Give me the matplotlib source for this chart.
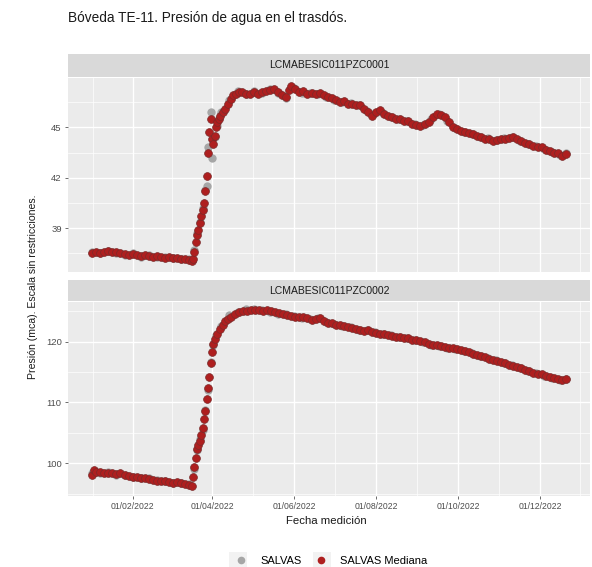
import numpy as np
import pandas as pd
import matplotlib
matplotlib.use('Agg')
import matplotlib.pyplot as plt
import matplotlib.dates as mdates
from matplotlib.lines import Line2D
from matplotlib.patches import Rectangle

plt.rcParams['font.family'] = ['Liberation Sans', 'DejaVu Sans']

# ── Data (day of year 2022, pressure in mca) ──
doy_top = [2, 5, 8, 11, 14, 17, 20, 23, 26, 29, 32, 35, 38, 41, 44, 47, 50, 53, 56, 59,
           62, 65, 68, 71, 74, 76, 77, 78, 79, 80, 81, 82, 83, 84, 85, 86, 87, 88, 89, 90,
           91, 92, 93, 94, 95, 96, 97, 99, 101, 103, 105, 107, 109, 111, 113, 116, 119, 122, 125, 128,
           131, 134, 137, 140, 143, 146, 148, 150, 153, 156, 159, 162, 165, 168, 171, 174, 177, 180, 183, 186,
           189, 192, 195, 198, 201, 204, 207, 210, 213, 216, 219, 222, 225, 228, 231, 234, 237, 240, 243, 246,
           249, 252, 255, 258, 261, 264, 267, 270, 273, 276, 279, 282, 285, 288, 291, 294, 297, 300, 303, 306,
           309, 312, 315, 318, 321, 324, 327, 330, 333, 336, 339, 342, 345, 348, 351, 354]
med_top = [37.55, 37.6, 37.55, 37.6, 37.62, 37.58, 37.6, 37.5, 37.45, 37.42, 37.45, 37.4, 37.35, 37.4, 37.38, 37.3, 37.35, 37.3, 37.25, 37.3,
           37.22, 37.25, 37.18, 37.15, 37.1, 37.05, 37.2, 37.6, 38.2, 38.6, 38.9, 39.3, 39.7, 40.1, 40.5, 41.2, 42.1, 43.5, 44.7, 45.5,
           44.3, 44.0, 44.5, 45.0, 45.3, 45.5, 45.7, 45.9, 46.1, 46.4, 46.7, 46.9, 47.0, 47.1, 47.1, 47.0, 47.0, 47.1, 47.0, 47.1,
           47.15, 47.2, 47.3, 47.1, 46.9, 46.8, 47.2, 47.45, 47.3, 47.1, 47.15, 47.0, 47.05, 47.0, 47.05, 46.9, 46.8, 46.75, 46.6, 46.5,
           46.55, 46.4, 46.4, 46.35, 46.3, 46.1, 45.9, 45.7, 45.9, 46.0, 45.8, 45.7, 45.6, 45.5, 45.5, 45.4, 45.35, 45.2, 45.15, 45.1,
           45.2, 45.3, 45.6, 45.8, 45.75, 45.6, 45.3, 45.0, 44.9, 44.8, 44.7, 44.65, 44.6, 44.5, 44.4, 44.3, 44.3, 44.2, 44.25, 44.3,
           44.3, 44.35, 44.4, 44.3, 44.2, 44.05, 44.0, 43.9, 43.85, 43.8, 43.65, 43.6, 43.5, 43.45, 43.3, 43.4]

doy_top_raw = [2, 8, 14, 20, 26, 32, 38, 44, 50, 56, 62, 68, 74, 78, 80, 82, 84, 86, 87, 88,
               90, 91, 93, 95, 98, 104, 110, 116, 122, 128, 134, 140, 146, 152, 158, 164, 170, 176, 182, 188,
               194, 200, 206, 212, 218, 224, 230, 236, 242, 248, 254, 260, 266, 272, 278, 284, 290, 296, 302, 308,
               314, 320, 326, 332, 338, 344, 350, 354]
raw_top = [37.6, 37.5, 37.65, 37.55, 37.4, 37.5, 37.3, 37.4, 37.3, 37.3, 37.25, 37.2, 37.15, 37.7, 38.7, 39.4, 40.2, 41.3, 41.5, 43.8,
           45.9, 43.2, 44.4, 45.1, 45.9, 46.6, 47.15, 46.95, 47.15, 47.05, 47.25, 47.05, 46.75, 47.35, 47.05, 47.05, 47.0, 46.8, 46.65, 46.5,
           46.45, 46.3, 45.95, 45.85, 45.85, 45.6, 45.5, 45.4, 45.2, 45.15, 45.5, 45.8, 45.35, 44.95, 44.75, 44.6, 44.45, 44.35, 44.25, 44.35,
           44.4, 44.2, 44.0, 43.9, 43.7, 43.55, 43.35, 43.45]

doy_bot = [2, 3, 5, 8, 11, 14, 17, 20, 23, 26, 29, 32, 35, 38, 41, 44, 47, 50, 53, 56,
           59, 62, 65, 68, 71, 74, 76, 77, 78, 79, 80, 81, 82, 83, 84, 85, 86, 87, 88, 89,
           90, 91, 92, 93, 95, 97, 99, 101, 103, 105, 108, 111, 114, 117, 120, 123, 126, 129, 132, 135,
           138, 141, 144, 147, 150, 153, 156, 159, 162, 165, 168, 171, 174, 177, 180, 183, 186, 189, 192, 195,
           198, 201, 204, 207, 210, 213, 216, 219, 222, 225, 228, 231, 234, 237, 240, 243, 246, 249, 252, 255,
           258, 261, 264, 267, 270, 273, 276, 279, 282, 285, 288, 291, 294, 297, 300, 303, 306, 309, 312, 315,
           318, 321, 324, 327, 330, 333, 336, 339, 342, 345, 348, 351, 354]
med_bot = [98.1, 98.8, 98.6, 98.5, 98.3, 98.4, 98.4, 98.2, 98.3, 98.0, 97.9, 97.8, 97.7, 97.6, 97.6, 97.4, 97.3, 97.1, 97.0, 97.1,
           96.9, 96.8, 96.9, 96.7, 96.6, 96.4, 96.3, 97.8, 99.3, 100.8, 102.3, 103.0, 103.6, 104.7, 105.8, 107.2, 108.5, 110.6, 112.4, 114.2,
           116.4, 118.3, 119.6, 120.4, 121.3, 122.0, 122.7, 123.3, 123.7, 124.1, 124.5, 124.8, 125.0, 125.1, 125.2, 125.25, 125.2, 125.1, 125.15, 125.0,
           124.8, 124.7, 124.5, 124.4, 124.2, 124.1, 124.0, 124.1, 123.8, 123.6, 123.7, 123.8, 123.4, 123.1, 123.0, 122.8, 122.7, 122.6, 122.4, 122.3,
           122.1, 121.9, 121.8, 121.9, 121.6, 121.4, 121.3, 121.2, 121.0, 120.9, 120.8, 120.7, 120.6, 120.5, 120.3, 120.2, 120.1, 119.9, 119.6, 119.4,
           119.5, 119.2, 119.1, 119.0, 118.9, 118.7, 118.6, 118.4, 118.2, 118.0, 117.8, 117.6, 117.4, 117.2, 117.0, 116.8, 116.6, 116.4, 116.2, 116.0,
           115.8, 115.6, 115.3, 115.1, 114.9, 114.7, 114.6, 114.3, 114.1, 114.0, 113.8, 113.6, 113.8]

doy_bot_raw = [2, 8, 14, 20, 26, 32, 38, 44, 50, 56, 62, 68, 74, 78, 80, 82, 84, 86, 88, 90,
               92, 94, 98, 104, 110, 116, 122, 128, 134, 140, 146, 152, 158, 164, 170, 176, 182, 188, 194, 200,
               206, 212, 218, 224, 230, 236, 242, 248, 254, 260, 266, 272, 278, 284, 290, 296, 302, 308, 314, 320,
               326, 332, 338, 344, 350, 354]
raw_bot = [98.4, 98.3, 98.5, 98.1, 98.1, 97.7, 97.5, 97.5, 97.2, 97.0, 96.7, 96.8, 96.5, 99.1, 102.1, 103.9, 105.5, 108.8, 112.1, 116.7,
           119.4, 121.0, 122.5, 124.3, 124.9, 125.3, 125.3, 125.2, 124.9, 124.6, 124.5, 124.2, 123.9, 123.7, 123.9, 123.2, 122.9, 122.5, 122.4, 121.9,
           121.9, 121.5, 121.2, 121.0, 120.7, 120.6, 120.2, 120.0, 119.5, 119.3, 119.0, 118.8, 118.5, 118.1, 117.7, 117.3, 116.9, 116.5, 116.1, 115.7,
           115.2, 114.8, 114.4, 114.0, 113.7, 113.9]

panels = ['LCMABESIC011PZC0001', 'LCMABESIC011PZC0002']
y_ticks = [[39, 42, 45], [100, 110, 120]]
y_minor = [[37.5, 40.5, 43.5, 46.5], [95, 105, 115, 125]]
y_lims = [(36.4, 47.93), (94.6, 126.5)]
x_ticks = ['2022-02-01', '2022-04-01', '2022-06-01', '2022-08-01', '2022-10-01', '2022-12-01']
legend_labels = ['SALVAS', 'SALVAS Mediana']


def to_dates(doy):
    return pd.Timestamp('2022-01-01') + pd.to_timedelta(np.array(doy) - 1, unit='D')


series = [
    (doy_top_raw, raw_top, doy_top, med_top),
    (doy_bot_raw, raw_bot, doy_bot, med_bot),
]

RED = '#AE1F1F'
RED_EDGE = '#7A2A2A'
GRAY = '#A6A6A6'
PANEL = '#EBEBEB'
STRIP = '#D9D9D9'
TXT = '#4D4D4D'

fig = plt.figure(figsize=(5.92, 5.67), dpi=100)
fig.patch.set_facecolor('white')

W, H = 592.0, 567.0
left, right = 68, 590
panel_px = [(78, 272), (302, 496)]
strip_px = [(54, 77), (280, 301)]

xmaj = mdates.date2num(pd.to_datetime(x_ticks))
step = xmaj[1] - xmaj[0]
xmin_grid = np.concatenate([[xmaj[0] - step / 2], (xmaj[:-1] + xmaj[1:]) / 2, [xmaj[-1] + step / 2]])
xlim = (mdates.date2num(pd.Timestamp('2021-12-15')), mdates.date2num(pd.Timestamp('2023-01-07')))

for i in range(2):
    top, bot = panel_px[i]
    ax = fig.add_axes([left / W, 1 - bot / H, (right - left) / W, (bot - top) / H])
    ax.set_facecolor(PANEL)
    for s in ax.spines.values():
        s.set_visible(False)

    dr, vr, dm, vm = series[i]
    ax.plot(to_dates(dr), vr, 'o', color=GRAY, ms=6.0, mew=0, zorder=3)
    ax.plot(to_dates(dm), vm, 'o', color=RED, ms=5.6, mec=RED_EDGE, mew=0.5, zorder=4)

    ax.set_xlim(xlim)
    ax.set_ylim(y_lims[i])
    ax.set_yticks(y_ticks[i])
    ax.set_yticks(y_minor[i], minor=True)
    ax.set_xticks(xmaj)
    ax.set_xticks(xmin_grid, minor=True)
    ax.grid(which='major', color='white', linewidth=1.0, zorder=1)
    ax.grid(which='minor', color='white', linewidth=0.5, zorder=1)
    ax.set_axisbelow(True)
    ax.tick_params(which='minor', length=0)
    ax.tick_params(which='major', length=2.5, width=0.6, color='#555555', labelsize=6.8,
                   labelcolor=TXT, pad=2)
    if i == 0:
        ax.tick_params(axis='x', which='major', length=0, labelbottom=False)
    else:
        ax.set_xticklabels(pd.to_datetime(x_ticks).strftime('%d/%m/%Y'))
        ax.tick_params(axis='x', labelsize=6.2)

    # facet strip
    st, sb = strip_px[i]
    sax = fig.add_axes([left / W, 1 - sb / H, (right - left) / W, (sb - st) / H])
    sax.set_facecolor(STRIP)
    sax.set_xticks([])
    sax.set_yticks([])
    for s in sax.spines.values():
        s.set_visible(False)
    sax.text(0.5, 0.5, panels[i], ha='center', va='center', fontsize=7.5, color='#1A1A1A',
             transform=sax.transAxes)

fig.text(68 / W, 1 - 18 / H, 'Bóveda TE-11. Presión de agua en el trasdós.', ha='left', va='center',
         fontsize=9.8, color='#1A1A1A')
fig.text(33 / W, 1 - 287 / H, 'Presión (mca). Escala sin restricciones.', rotation=90,
         ha='center', va='center', fontsize=7.6, color='#1A1A1A')
fig.text(326 / W, 1 - 521 / H, 'Fecha medición', ha='center', va='center', fontsize=8.2, color='#1A1A1A')

# legend key backgrounds (ggplot style)
for cx in (238, 322):
    fig.patches.append(Rectangle(((cx - 9) / W, 1 - 570 / H), 18 / W, 18 / H, transform=fig.transFigure,
                                 facecolor='#F2F2F2', edgecolor='none', zorder=0))
handles = [
    Line2D([], [], marker='o', linestyle='none', color=GRAY, ms=5.5, mew=0, label=legend_labels[0]),
    Line2D([], [], marker='o', linestyle='none', color=RED, ms=5.5, mew=0, label=legend_labels[1]),
]
fig.legend(handles=handles, loc='center', bbox_to_anchor=(330 / W, 1 - 561 / H), ncol=2, frameon=False,
           fontsize=8, handletextpad=0.9, columnspacing=1.0, handlelength=1.6, borderpad=0)

fig.savefig('out.png', dpi=100, facecolor='white')
